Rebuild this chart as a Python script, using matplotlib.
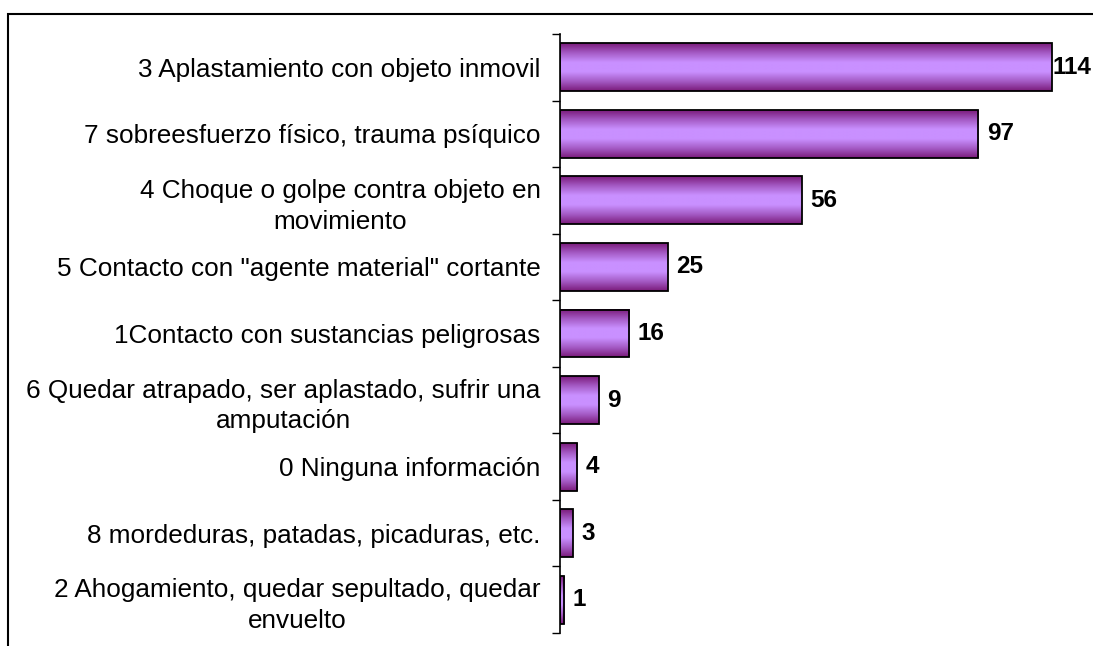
import numpy as np
import matplotlib.pyplot as plt
from matplotlib.colors import LinearSegmentedColormap
from matplotlib.patches import Rectangle

# categories from top to bottom
labels = [
    "3 Aplastamiento con objeto inmovil",
    "7 sobreesfuerzo físico, trauma psíquico",
    "4 Choque o golpe contra objeto en\nmovimiento",
    '5 Contacto con "agente material" cortante',
    "1Contacto con sustancias peligrosas",
    "6 Quedar atrapado, ser aplastado, sufrir una\namputación",
    "0 Ninguna información",
    "8 mordeduras, patadas, picaduras, etc.",
    "2 Ahogamiento, quedar sepultado, quedar\nenvuelto",
]
values = [114, 97, 56, 25, 16, 9, 4, 3, 1]

plt.rcParams['font.family'] = ['Liberation Sans', 'DejaVu Sans']

fig = plt.figure(figsize=(10.93, 6.46), dpi=100)
fig.patches.append(Rectangle((8 / 1093, -0.05), 1.2, 1 - 14 / 646 + 0.05,
                             transform=fig.transFigure, fill=False,
                             edgecolor='black', linewidth=1.5))
ax = fig.add_axes([560 / 1093, 13 / 646, 509 / 1093, (633 - 34) / 646])

cmap = LinearSegmentedColormap.from_list(
    "bar", ["#7a1a7a", "#a45ac4", "#c990ff", "#c990ff", "#a45ac4", "#7a1a7a"])
grad = np.linspace(0, 1, 256).reshape(-1, 1)

n = len(values)
y = np.arange(n)
h = 0.72
bars = ax.barh(y, values, height=h, color='none', edgecolor='black',
               linewidth=1.3, zorder=3)
for b, v in zip(bars, values):
    x0, y0 = b.get_x(), b.get_y()
    ax.imshow(grad, cmap=cmap, aspect='auto', interpolation='bilinear',
              extent=(x0, x0 + b.get_width(), y0 + h, y0), zorder=2)
    off = 0.5 if v == max(values) else 6
    ax.annotate(str(v), (v, b.get_y() + h / 2), xytext=(off, 0),
                textcoords='offset points', va='center', ha='left',
                fontsize=17.5, fontweight='bold', annotation_clip=False)

ax.set_xlim(0, 118)
ax.set_ylim(n - 0.5, -0.5)
ax.set_yticks(y)
ax.set_yticklabels(labels, fontsize=18.8, multialignment='center',
                   linespacing=1.35)
ax.tick_params(axis='y', which='major', length=0, pad=14)
ax.set_yticks(np.arange(-0.5, n, 1), minor=True)
ax.tick_params(axis='y', which='minor', length=6, width=1, direction='out')
ax.set_xticks([])
for s in ['top', 'right', 'bottom']:
    ax.spines[s].set_visible(False)
ax.spines['left'].set_linewidth(1.2)

fig.savefig("out.png", dpi=100)
